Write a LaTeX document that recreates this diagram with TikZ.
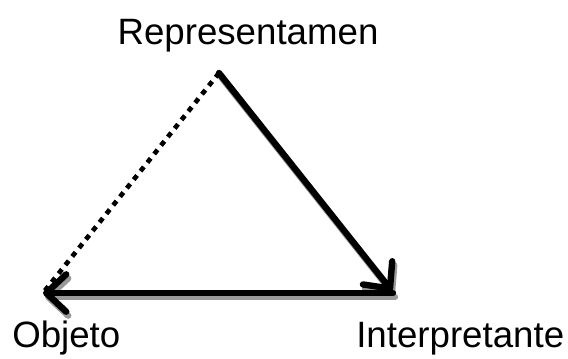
\documentclass[tikz,border=0pt]{standalone}
\usepackage{fontspec}
\setmainfont{Liberation Sans}
\usetikzlibrary{arrows.meta}

\tikzset{
  arrowline/.style={line width=4.8pt, line cap=round,
    -{Straight Barb[round, length=15pt, width=28pt]}},
  shadowline/.style={arrowline, draw=black!40},
  dotline/.style={line width=3.5pt, dash pattern=on 4pt off 4.2pt},
  cornerlabel/.style={font=\fontsize{27.5}{33}\selectfont, inner sep=0pt}
}

\begin{document}
\begin{tikzpicture}[x=0.75pt, y=-0.75pt]
  \useasboundingbox (0,0) rectangle (568,358);

  % Define the corners
  \coordinate (top) at (219,73);
  \coordinate (left) at (43,293);
  \coordinate (right) at (392,291);
  \coordinate (rightend) at (393,293);
  \coordinate (stop) at (221,77);
  \coordinate (sleft) at (45,297);
  \coordinate (sright) at (394,295);
  \coordinate (srightend) at (395,297);

  % Draw the labels
  \node[cornerlabel, anchor=base] (rep) at (248,44) {Representamen};
  \node[cornerlabel, anchor=base west] (obj) at (12,347) {Objeto};
  \node[cornerlabel, anchor=base west] (int) at (356,347) {Interpretante};

  % Draw the shadows
  \draw[shadowline] (stop) -- (sright);
  \draw[shadowline] (srightend) -- (sleft);

  % Draw the edges
  \draw[dotline] (top) -- (left);
  \draw[arrowline] (top) -- (right);
  \draw[arrowline] (rightend) -- (left);
\end{tikzpicture}
\end{document}
